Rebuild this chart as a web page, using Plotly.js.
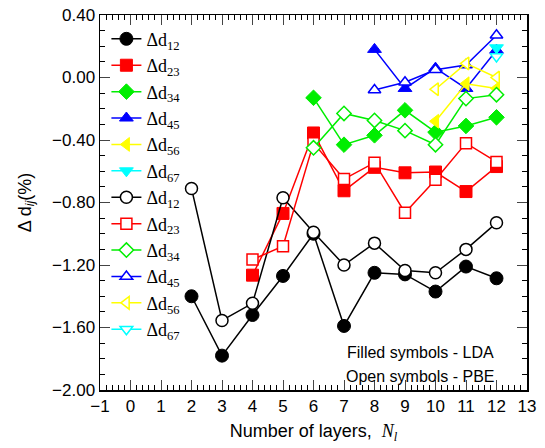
<!DOCTYPE html>
<html><head><meta charset="utf-8">
<script src="https://cdn.plot.ly/plotly-3.0.1.min.js"></script>
<style>body{margin:0;padding:0;background:#fff}#plot{width:545px;height:448px}</style>
</head><body><div id="plot"></div>
<script>
// Data
const layers = [2,3,4,5,6,7,8,9,10,11,12];
const lda_d12 = [-1.40,-1.78,-1.52,-1.27,-1.00,-1.59,-1.25,-1.26,-1.37,-1.21,-1.285];
const pbe_d12 = [-0.71,-1.555,-1.445,-0.77,-0.99,-1.20,-1.06,-1.235,-1.25,-1.10,-0.93];
const layers23 = [4,5,6,7,8,9,10,11,12];
const lda_d23 = [-1.265,-0.87,-0.355,-0.725,-0.575,-0.61,-0.605,-0.73,-0.57];
const pbe_d23 = [-1.165,-1.08,-0.42,-0.65,-0.545,-0.865,-0.655,-0.42,-0.54];
const layers34 = [6,7,8,9,10,11,12];
const lda_d34 = [-0.13,-0.43,-0.37,-0.21,-0.35,-0.31,-0.255];
const pbe_d34 = [-0.45,-0.23,-0.275,-0.34,-0.43,-0.135,-0.11];
const layers45 = [8,9,10,11,12];
const lda_d45 = [0.18,-0.07,0.06,-0.07,0.175];
const pbe_d45 = [-0.08,-0.03,0.05,0.08,0.27];
const layers56 = [10,11,12];
const lda_d56 = [-0.28,-0.04,-0.07];
const pbe_d56 = [-0.075,0.09,0.0];
const layers67 = [12];
const lda_d67 = [0.19];
const pbe_d67 = [0.135];

const names = ['12','23','34','45','56','67'];
const colors = ['#000000','#ff0000','#00ee00','#0000ff','#ffff00','#00ffff'];
const symbols = ['circle','square','diamond','triangle-up','triangle-left','triangle-down'];
const xs = [layers,layers23,layers34,layers45,layers56,layers67];
const ldaY = [lda_d12,lda_d23,lda_d34,lda_d45,lda_d56,lda_d67];
const pbeY = [pbe_d12,pbe_d23,pbe_d34,pbe_d45,pbe_d56,pbe_d67];

const traces = [];
for (let i=0;i<6;i++){
  traces.push({x:xs[i],y:ldaY[i],mode:'lines+markers',name:'Δd<sub>'+names[i]+'</sub>',
    line:{color:colors[i],width:1.5},
    marker:{symbol:symbols[i],size:i===0?13:12,color:colors[i],line:{color:colors[i],width:1}}});
}
for (let i=0;i<6;i++){
  traces.push({x:xs[i],y:pbeY[i],mode:'lines+markers',name:'Δd<sub>'+names[i]+'</sub>',
    line:{color:colors[i],width:1.5},
    marker:{symbol:symbols[i],size:i===0?12:11,color:'#ffffff',line:{color:colors[i],width:1.5}}});
}

const layout = {
  width:545,height:448,
  margin:{l:100,r:18,t:15,b:58},
  paper_bgcolor:'#fff',plot_bgcolor:'#fff',
  font:{family:'Liberation Sans, Arial, sans-serif',size:18,color:'#000'},
  xaxis:{range:[-1,13],dtick:1,tick0:-1,ticks:'inside',ticklen:10,tickwidth:1,
    showline:true,linecolor:'#000',linewidth:1.5,mirror:'allticks',showgrid:false,zeroline:false,
    minor:{dtick:0.2,ticks:'inside',ticklen:5,tickcolor:'#000',showgrid:false},
    tickfont:{size:17},
    title:{text:'Number of layers,  <span style="font-family:Liberation Serif"><i>N<sub>l</sub></i></span>',font:{size:18},standoff:9}},
  yaxis:{range:[-2,0.4],dtick:0.4,tick0:-2,tickformat:'.2f',ticks:'inside',ticklen:10,tickwidth:1,
    showline:true,linecolor:'#000',linewidth:1.5,mirror:'allticks',showgrid:false,zeroline:false,
    minor:{dtick:0.1,ticks:'inside',ticklen:5,tickcolor:'#000',showgrid:false},
    tickfont:{size:17},
    title:{text:'Δ d<sub><i>ij</i></sub>(%)',font:{size:18},standoff:16}},
  legend:{x:0.015,y:0.985,xanchor:'left',yanchor:'top',bgcolor:'rgba(0,0,0,0)',
    font:{family:'Liberation Serif, Times New Roman, serif',size:18},itemwidth:30},
  showlegend:true,
  annotations:[
    {text:'Filled symbols - LDA',xref:'paper',yref:'paper',x:0.75,y:0.101,xanchor:'center',yanchor:'middle',showarrow:false,
      font:{size:16,family:'Liberation Sans, Arial, sans-serif'}},
    {text:'Open symbols - PBE',xref:'paper',yref:'paper',x:0.75,y:0.037,xanchor:'center',yanchor:'middle',showarrow:false,
      font:{size:16,family:'Liberation Sans, Arial, sans-serif'}}
  ]
};
Plotly.newPlot('plot',traces,layout,{displayModeBar:false,staticPlot:true});
</script></body></html>
